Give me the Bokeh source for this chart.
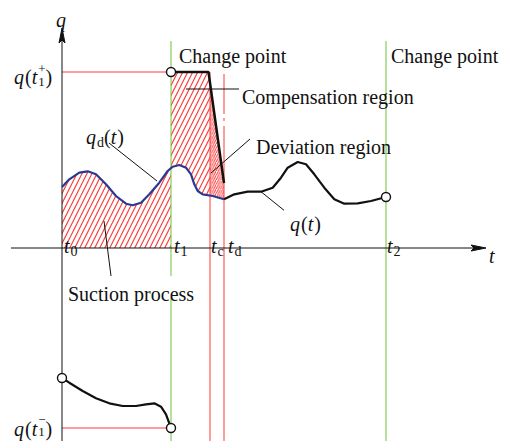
import numpy as np
from bokeh.plotting import figure
from bokeh.models import Range1d
from bokeh.core.properties import value
from bokeh.embed import file_html
from bokeh.resources import INLINE

# ---- time markers on the t axis and levels on the q axis ----
T0, T1, TC, TD, T2 = 0, 109, 148, 162, 324
Q_T1_PLUS = 176
Q_T1_MINUS = -180

# desired flow q_d(t) from t0 to td
qd_t = [0, 7.3, 17.3, 25.7, 34, 44, 54, 64, 70.7, 79, 87.3, 97.3, 105.7, 110.7,
        117.3, 124, 129, 132.3, 135.7, 140.7, 150.7, 162]
qd_q = [61, 68.7, 75.3, 76.7, 73.7, 63.7, 52, 44.3, 42.7, 45.3, 53.7, 65.3, 77, 81.3,
        83, 80.3, 73.7, 63.7, 57, 53.7, 52, 48.7]

# actual flow q(t) from td to t2
q_t = [162, 172.3, 185.7, 199, 210.7, 219, 225.7, 235.7, 244, 252.3, 262.3, 272.3,
       282.3, 295.7, 309, 324]
q_q = [48.7, 53.7, 56.3, 56.3, 60.3, 70.3, 80.3, 86, 83.7, 73.7, 60.3, 48.7,
       44.3, 44.7, 47, 51]

# flow before the change point, from t0 to t1 (negative branch)
low_t = [0, 7.3, 20.7, 34, 47.3, 60.7, 74, 84, 92.3, 99, 104, 109]
low_q = [-130, -134.7, -143, -150.3, -155.3, -158, -158, -156.3, -155.3, -158.7,
         -166.3, Q_T1_MINUS]

# compensation step: hold q(t1+), then ramp down to td
comp_t = [T1, 146.5, TD]
comp_q = [Q_T1_PLUS, Q_T1_PLUS, 65]

RED = "#ff3b3b"
GREEN = "#6cc33a"
BLUE = "#2b3a8e"
INK = "#111111"
FONT = value("Liberation Serif")

# half-pixel shift keeps the 1px rules crisp
p = figure(width=508, height=441, x_range=Range1d(-61.5, 446.5), y_range=Range1d(-193.5, 247.5),
           output_backend="svg", toolbar_location=None, min_border=0,
           x_axis_type=None, y_axis_type=None)
p.grid.visible = False
p.outline_line_color = None
p.background_fill_color = "white"
p.border_fill_color = "white"


def qd_at(t):
    return float(np.interp(t, qd_t, qd_q))


def ramp_at(t):
    return float(np.interp(t, comp_t, comp_q))


# ---- hatched regions ----
# suction process: under q_d(t) between t0 and t1
mask = [t for t in qd_t if T0 <= t < T1]
sx = [T0] + mask + [T1, T1, T0]
sy = [0] + [qd_at(t) for t in mask] + [qd_at(T1), 0, 0]
p.patch(sx, sy, fill_alpha=0, line_color=None, hatch_pattern="/",
        hatch_color=RED, hatch_scale=10, hatch_weight=1.2)

# compensation region: between the step and q_d(t), t1..tc
inner = [t for t in qd_t if T1 < t < TC]
cx = [T1, comp_t[1], TC, TC] + inner[::-1] + [T1]
cy = [Q_T1_PLUS, Q_T1_PLUS, ramp_at(TC), qd_at(TC)] + [qd_at(t) for t in inner[::-1]] + [qd_at(T1)]
p.patch(cx, cy, fill_alpha=0, line_color=None, hatch_pattern="/",
        hatch_color=RED, hatch_scale=10, hatch_weight=1.2)

# deviation region: between the ramp and q_d(t), tc..td
inner2 = [t for t in qd_t if TC < t < TD]
dx = [TC, TD, TD] + inner2[::-1] + [TC]
dy = [ramp_at(TC), ramp_at(TD), qd_at(TD)] + [qd_at(t) for t in inner2[::-1]] + [qd_at(TC)]
p.patch(dx, dy, fill_alpha=0, line_color=None, hatch_pattern="/",
        hatch_color=RED, hatch_scale=4.5, hatch_weight=1)

# ---- reference lines ----
p.segment(x0=[T1, T1, T2], y0=[207, -50, 207], x1=[T1, T1, T2], y1=[-28, -194, -194],
          line_color=GREEN, line_width=1)
p.segment(x0=[TC, TD, TD, TD], y0=[Q_T1_PLUS, 174, 130, 122],
          x1=[TC, TD, TD, TD], y1=[-194, 134, 127, -194],
          line_color=RED, line_width=1)
p.segment(x0=[T0, T0], y0=[Q_T1_PLUS, Q_T1_MINUS], x1=[T1, T1], y1=[Q_T1_PLUS, Q_T1_MINUS],
          line_color=RED, line_width=1)

# ---- axes with arrow heads ----
T_END, Q_END = 424, 220
p.segment(x0=[-51, T0], y0=[0, -194], x1=[T_END - 6, T0], y1=[0, Q_END - 6],
          line_color=INK, line_width=1)
p.patch([T_END, T_END - 15, T_END - 12, T_END - 15], [0, 3, 0, -3], fill_color=INK, line_color=INK)
p.patch([T0, T0 - 3, T0, T0 + 3], [Q_END, Q_END - 15, Q_END - 12, Q_END - 15], fill_color=INK, line_color=INK)

# ---- curves ----
p.line(qd_t, qd_q, line_color=BLUE, line_width=2.2)
p.line(q_t, q_q, line_color=INK, line_width=2.2)
p.line(low_t, low_q, line_color=INK, line_width=2.2)
p.line(comp_t, comp_q, line_color=INK, line_width=2.5)

# ---- leader lines ----
p.segment(x0=[47, 124, 149, 199, 42],
          y0=[105, 159, 75, 56.3, 27],
          x1=[95, 177, 188, 222, 49],
          y1=[67, 159, 109, 37.7, -28],
          line_color=INK, line_width=1)

# ---- open circles ----
p.scatter([T1, T1, T0, T2], [Q_T1_PLUS, Q_T1_MINUS, low_q[0], q_q[-1]],
          size=9, marker="circle", fill_color="white", line_color=INK, line_width=1.4)

# ---- text ----
W_REG = {'(': .333, ')': .333, '0': .5, '1': .5, '2': .5, 'c': .444, 'd': .5,
         '+': .564, '\u2212': .564}
W_IT = {'q': .5, 't': .278}


def math_label(x, y, parts):
    """parts: (text, italic, size_px, dy_px, advance)"""
    off = 0.0
    for text, italic, size, dyp, adv in parts:
        table = W_IT if italic else W_REG
        p.text(x=[x], y=[y], text=[text], x_offset=off, y_offset=dyp,
               text_font=FONT, text_font_size=f"{size}px",
               text_font_style=value("italic" if italic else "normal"),
               text_color=INK, text_align="left", text_baseline="alphabetic")
        if adv:
            off += sum(table.get(ch, .5) for ch in text) * size + (1 if italic else 0)


def plain(x, y, s):
    p.text(x=[x], y=[y], text=[s], text_font=FONT, text_font_size="20px",
           text_color=INK, text_align="left", text_baseline="alphabetic")


plain(117, 192, "Change point")
plain(329, 192, "Change point")
plain(180, 151, "Compensation region")
plain(194, 101, "Deviation region")
plain(6, -46, "Suction process")

math_label(-6, 228, [("q", True, 20, 0, True)])
math_label(427, -8, [("t", True, 20, 0, True)])

for tx, sub in [(2, "0"), (112, "1"), (149, "c"), (166, "d"), (325, "2")]:
    math_label(tx, 2, [("t", True, 20, 0, True), (sub, False, 14, 5, True)])

math_label(-48, 171, [("q", True, 20, 0, True), ("(", False, 20, 0, True),
                      ("t", True, 20, 0, True), ("1", False, 13, 5, False),
                      ("+", False, 13, -8, True), (")", False, 20, 0, True)])
math_label(-48, -181, [("q", True, 20, 0, True), ("(", False, 20, 0, True),
                       ("t", True, 20, 0, True), ("1", False, 13, 3, False),
                       ("\u2212", False, 13, -9, True), (")", False, 20, 0, True)])
math_label(24, 111, [("q", True, 20, 0, True), ("d", False, 14, 5, True),
                     ("(", False, 20, 0, True), ("t", True, 20, 0, True),
                     (")", False, 20, 0, True)])
math_label(228, 24, [("q", True, 20, 0, True), ("(", False, 20, 0, True),
                     ("t", True, 20, 0, True), (")", False, 20, 0, True)])

open("out.html", "w").write(file_html(p, INLINE))
